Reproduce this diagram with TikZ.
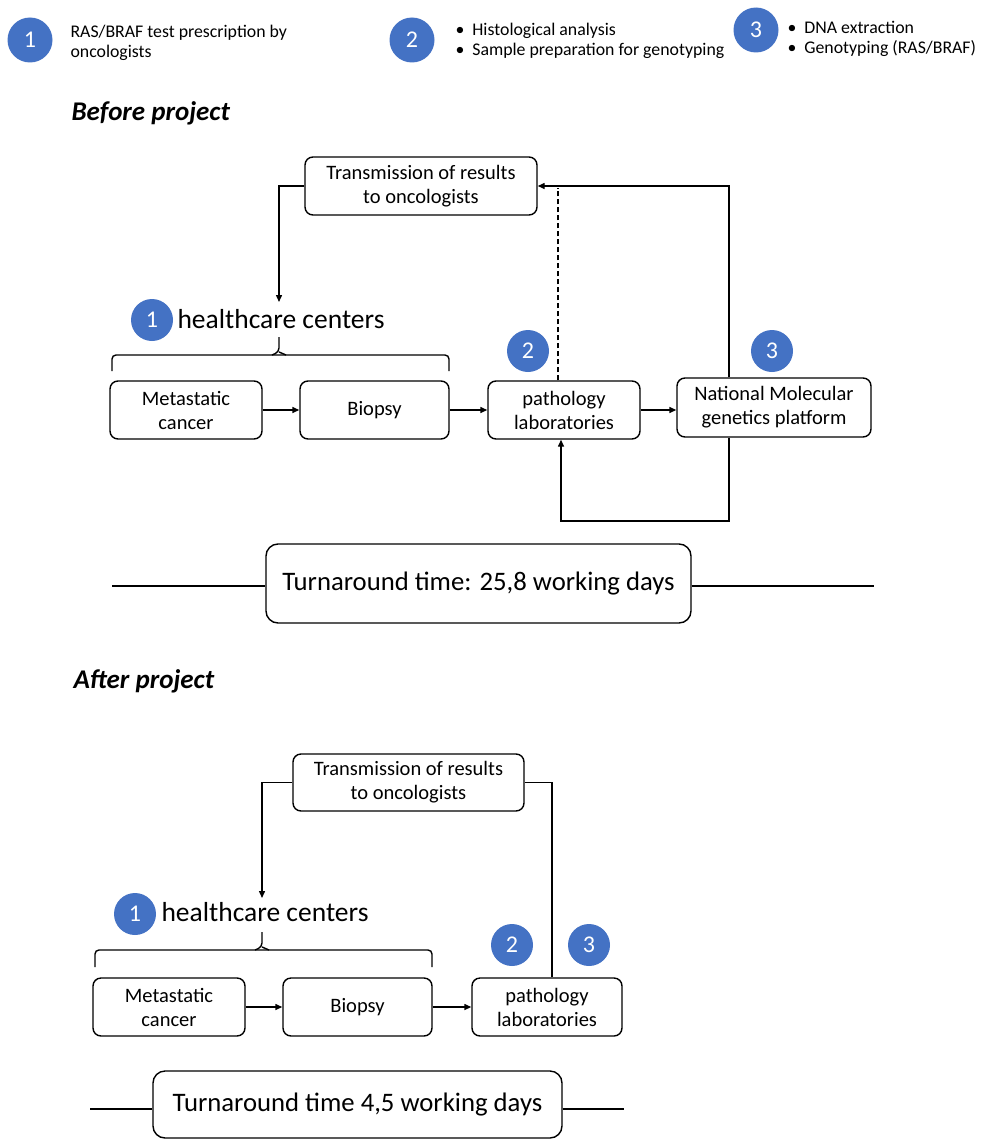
\documentclass[tikz,border=0pt]{standalone}
\usepackage{fontspec}
\setmainfont{Carlito}
\usetikzlibrary{arrows.meta,positioning,calc}
\definecolor{numblue}{HTML}{4472C4}
\tikzset{
  box/.style={draw, line width=1.4pt, rounded corners=8pt, align=center, inner sep=2pt,
    font=\fontsize{20.5}{24}\selectfont},
  bigbox/.style={draw, line width=1.4pt, rounded corners=12pt, align=center,
    font=\fontsize{26.7}{30}\selectfont},
  num/.style={circle, fill=numblue, text=white, minimum size=42pt, inner sep=0pt,
    font=\fontsize{24}{26}\selectfont},
  leg/.style={anchor=west, align=left, font=\fontsize{17.8}{19.5}\selectfont},
  hc/.style={anchor=west, font=\fontsize{27.5}{30}\selectfont},
  head/.style={anchor=west, font=\fontsize{27}{30}\selectfont\bfseries\itshape},
  conn/.style={line width=1.4pt},
  bracestyle/.style={line width=1.4pt, rounded corners=4pt},
  arr/.style={line width=1.4pt, -{Triangle[length=7pt,width=6pt]}},
}
\begin{document}
\begin{tikzpicture}[x=1pt,y=-1pt]
\useasboundingbox (0,0) rectangle (988,1140);

% ---- legend ----
\node[num, minimum width=43pt, minimum height=45pt] (l1) at (30,40) {1};
\node[leg] (l1t) at (67,43) {RAS/BRAF test prescription by\\oncologists};
\node[num, minimum width=43pt, minimum height=45pt] (l2) at (412,40) {2};
\node[leg] (l2t) at (452,41) {\textbullet\hspace{8pt}Histological analysis\\\textbullet\hspace{8pt}Sample preparation for genotyping};
\node[num, minimum width=43pt, minimum height=45pt] (l3) at (756,30) {3};
\node[leg] (l3t) at (784,39) {\textbullet\hspace{8pt}DNA extraction\\\textbullet\hspace{8pt}Genotyping (RAS/BRAF)};

% ---- Before project ----
\node[head] (hb) at (68,113) {Before project};

\node[box, minimum width=232pt, minimum height=58pt] (t1) at (421,186) {Transmission of results\\to oncologists};
\coordinate (hcTop1) at (279,302);
\node[num] (c11) at (152,320) {1};
\node[hc] (hc1) at (174,319) {healthcare centers};

\draw[bracestyle] (112,371) -- (112,355) -- (449,355) -- (449,371);
\coordinate (br1) at (279,337);
\draw[bracestyle] (272,355) -- (279,352) -- (br1);
\draw[bracestyle] (286,355) -- (279,352);

\node[box, minimum width=152pt, minimum height=58pt] (m1) at (186,410) {Metastatic\\cancer};
\node[box, minimum width=149pt, minimum height=58pt] (b1) at (374.5,410) {Biopsy};
\node[box, minimum width=152pt, minimum height=58pt] (p1) at (564,410) {pathology\\laboratories};
\node[box, minimum width=194pt, minimum height=59pt] (n1) at (774,407.5) {National Molecular\\genetics platform};
\node[num] (c21) at (528,351) {2};
\node[num] (c31) at (772,351) {3};

\draw[arr] (t1.west) -| (hcTop1);
\draw[arr] (m1.east) -- (b1.west);
\draw[arr] (b1.east) -- (p1.west);
\draw[arr] (p1.east) -- (p1.east -| n1.west);
\coordinate (dashTop) at (558,188);
\draw[conn, dash pattern=on 5pt off 3pt, line width=1.2pt] ([xshift=-6pt]p1.north) -- (dashTop);
\draw[arr] ([xshift=-45pt]n1.north) |- (t1.east);
\coordinate (loopC) at (729,521);
\draw[arr] ([xshift=-45pt]n1.south) -- (loopC) -| ([xshift=-3pt]p1.south);

\node[bigbox, minimum width=425pt, minimum height=79pt] (ta1) at (478.5,583.5) {Turnaround time: 25,8 working days};
\coordinate (ta1L) at (112,586);
\coordinate (ta1R) at (874,586);
\draw[conn] (ta1L) -- (ta1L -| ta1.west);
\draw[conn] (ta1.east |- ta1R) -- (ta1R);

% ---- After project ----
\node[head] (ha) at (70,681) {After project};

\node[box, minimum width=231pt, minimum height=57pt] (t2) at (408.5,782.5) {Transmission of results\\to oncologists};
\coordinate (hcTop2) at (262,898);
\node[num] (c12) at (135,914) {1};
\node[hc] (hc2) at (158,912) {healthcare centers};

\draw[bracestyle] (95,967) -- (95,950) -- (432,950) -- (432,967);
\coordinate (br2) at (262,932);
\draw[bracestyle] (255,950) -- (262,947) -- (br2);
\draw[bracestyle] (269,950) -- (262,947);

\node[box, minimum width=152pt, minimum height=58pt] (m2) at (169,1007) {Metastatic\\cancer};
\node[box, minimum width=149pt, minimum height=58pt] (b2) at (357.5,1007) {Biopsy};
\node[box, minimum width=150pt, minimum height=58pt] (p2) at (547,1007) {pathology\\laboratories};
\node[num] (c22) at (512,945) {2};
\node[num] (c32) at (589,945) {3};

\draw[arr] (t2.west) -| (hcTop2);
\draw[conn] ([xshift=5pt]p2.north) |- (t2.east);
\draw[arr] (m2.east) -- (b2.west);
\draw[arr] (b2.east) -- (p2.west);

\node[bigbox, minimum width=409pt, minimum height=67pt] (ta2) at (357.5,1104.5) {Turnaround time 4,5 working days};
\coordinate (ta2L) at (90,1109);
\coordinate (ta2R) at (624,1109);
\draw[conn] (ta2L) -- (ta2L -| ta2.west);
\draw[conn] (ta2.east |- ta2R) -- (ta2R);
\end{tikzpicture}
\end{document}
